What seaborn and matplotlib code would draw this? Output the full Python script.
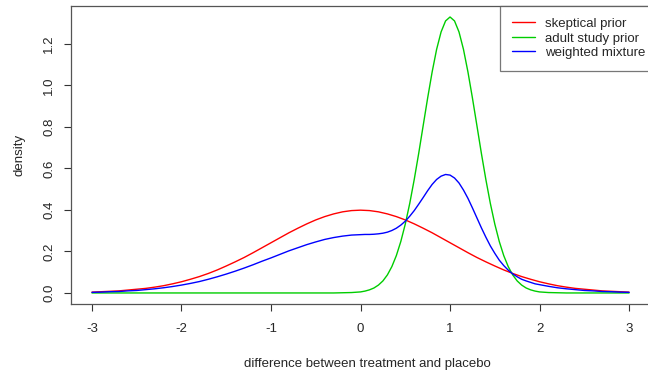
import pandas as pd
import seaborn as sns
import matplotlib.pyplot as plt

# values
x_coarse = [round(-3 + 0.1 * i, 1) for i in range(61)]
x_fine = ([round(-3 + 0.1 * i, 1) for i in range(31)]
          + [round(0.05 * i, 2) for i in range(1, 41)]
          + [round(2 + 0.1 * i, 1) for i in range(1, 11)])

skeptical_half = [0.399, 0.397, 0.391, 0.381, 0.368, 0.352, 0.333, 0.312, 0.290, 0.266,
                  0.242, 0.218, 0.194, 0.171, 0.150, 0.130, 0.111, 0.094, 0.079, 0.066,
                  0.054, 0.044, 0.035, 0.028, 0.022, 0.018, 0.014, 0.010, 0.008, 0.006, 0.004]
skeptical = skeptical_half[:0:-1] + skeptical_half

adult = ([0.0] * 28 + [0.001, 0.002, 0.005]
         + [0.009, 0.015, 0.024, 0.038, 0.058, 0.087, 0.127, 0.180, 0.248, 0.332,
            0.432, 0.547, 0.673, 0.807, 0.940, 1.065, 1.174, 1.258, 1.311, 1.330,
            1.311, 1.258, 1.174, 1.065, 0.940, 0.807, 0.673, 0.547, 0.432, 0.332,
            0.248, 0.180, 0.127, 0.087, 0.058, 0.038, 0.024, 0.015, 0.009, 0.005]
         + [0.002, 0.001] + [0.0] * 8)

mixture = ([0.003, 0.004, 0.006, 0.007, 0.010, 0.012, 0.016, 0.020, 0.025, 0.031,
            0.038, 0.046, 0.055, 0.066, 0.078, 0.091, 0.105, 0.120, 0.136, 0.153,
            0.169, 0.186, 0.203, 0.218, 0.233, 0.246, 0.258, 0.267, 0.274, 0.279, 0.281]
           + [0.282, 0.282, 0.283, 0.285, 0.288, 0.293, 0.301, 0.312, 0.327, 0.346,
              0.370, 0.397, 0.428, 0.460, 0.493, 0.523, 0.547, 0.563, 0.571, 0.568,
              0.554, 0.530, 0.496, 0.456, 0.410, 0.362, 0.314, 0.269, 0.227, 0.191,
              0.158, 0.132, 0.110, 0.092, 0.078, 0.066, 0.058, 0.051, 0.044, 0.040]
           + [0.032, 0.025, 0.020, 0.016, 0.012, 0.010, 0.007, 0.006, 0.004, 0.003])

labels = ["skeptical prior", "adult study prior", "weighted mixture"]
palette = {"skeptical prior": "#FF0000", "adult study prior": "#00CD00", "weighted mixture": "#0000FF"}

df = pd.concat([
    pd.DataFrame({"x": x_coarse, "density": skeptical, "prior": labels[0]}),
    pd.DataFrame({"x": x_fine, "density": adult, "prior": labels[1]}),
    pd.DataFrame({"x": x_fine, "density": mixture, "prior": labels[2]}),
], ignore_index=True)

sns.set_style("ticks")
plt.rcParams["font.family"] = ["Liberation Sans", "DejaVu Sans"]

fig = plt.figure(figsize=(6.48, 3.72), dpi=100)
# plot box runs past the right edge of the image, as in the reference
ax = fig.add_axes([0.1088, 0.1828, 0.916, 0.8011])

sns.lineplot(data=df, x="x", y="density", hue="prior", hue_order=labels,
             palette=palette, linewidth=1, ax=ax, legend=False, sort=False)

ax.set_xlim(-3.24, 3.391)
ax.set_ylim(-0.0532, 1.383)
ax.set_xticks([-3, -2, -1, 0, 1, 2, 3])
ax.set_xticklabels(["-3", "-2", "-1", "0", "1", "2", "3"])
ax.set_yticks([0.0, 0.2, 0.4, 0.6, 0.8, 1.0, 1.2])
ax.set_yticklabels(["0.0", "0.2", "0.4", "0.6", "0.8", "1.0", "1.2"], rotation=90, va="center")
ax.tick_params(axis="both", length=5, width=0.8, labelsize=9.5, color="#333333")
ax.tick_params(axis="x", pad=9)
ax.tick_params(axis="y", pad=6)
for s in ax.spines.values():
    s.set_visible(True)
    s.set_color("#555555")
    s.set_linewidth(0.9)

ax.set_xlabel("difference between treatment and placebo", fontsize=9.5, labelpad=16)
ax.set_ylabel("density", fontsize=9.5, labelpad=13)

handles = [plt.Line2D([], [], color=palette[l], lw=1) for l in labels]
leg = ax.legend(handles, labels, loc="upper right", bbox_to_anchor=(0.988, 1.0),
                fontsize=9.5, frameon=True, fancybox=False,
                edgecolor="#555555", borderaxespad=0, handlelength=1.75, handletextpad=0.75,
                labelspacing=0.17, borderpad=0.9)
leg.get_frame().set_linewidth(0.9)

fig.savefig("out.png", dpi=100)
